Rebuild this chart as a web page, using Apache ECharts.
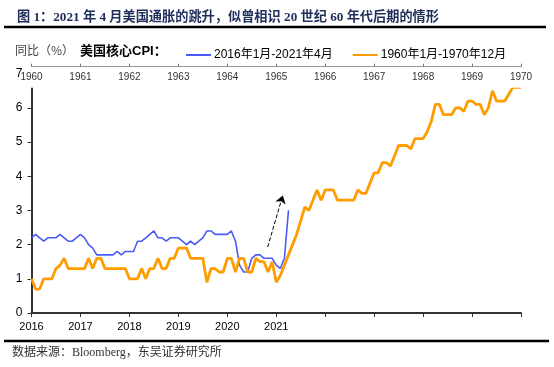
<!DOCTYPE html>
<html>
<head>
<meta charset="utf-8">
<script src="https://cdn.jsdelivr.net/npm/echarts@6/dist/echarts.min.js"></script>
<style>
html,body{margin:0;padding:0;background:#fff;}
#chart{width:554px;height:367px;}
</style>
</head>
<body>
<div id="chart"></div>
<script>
// ---- data ----
var bottomYears = ['2016','2017','2018','2019','2020','2021'];
var topYears = ['1960','1961','1962','1963','1964','1965','1966','1967','1968','1969','1970'];
var seriesNames = ['2016年1月-2021年4月', '1960年1月-1970年12月'];
// US core CPI YoY, 2016/01 - 2021/04 (monthly)
var cpi2016 = [
  2.2,2.3,2.2,2.1,2.2,2.2,2.2,2.3,2.2,2.1,2.1,2.2,
  2.3,2.2,2.0,1.9,1.7,1.7,1.7,1.7,1.7,1.8,1.7,1.8,
  1.8,1.8,2.1,2.1,2.2,2.3,2.4,2.2,2.2,2.1,2.2,2.2,
  2.2,2.1,2.0,2.1,2.0,2.1,2.2,2.4,2.4,2.3,2.3,2.3,
  2.3,2.4,2.1,1.4,1.2,1.2,1.6,1.7,1.7,1.6,1.6,1.6,
  1.4,1.3,1.6,3.0
];
// US core CPI YoY, 1960/01 onward (monthly, as drawn)
var cpi1960 = [
  1.0,0.7,0.7,1.0,1.0,1.0,1.3,1.4,1.6,1.3,1.3,1.3,
  1.3,1.3,1.6,1.3,1.6,1.6,1.3,1.3,1.3,1.3,1.3,1.3,
  1.0,1.0,1.0,1.3,1.0,1.3,1.3,1.6,1.3,1.3,1.6,1.6,
  1.9,1.9,1.9,1.6,1.6,1.6,1.6,0.9,1.3,1.3,1.2,1.2,
  1.6,1.6,1.2,1.6,1.6,1.2,1.2,1.6,1.5,1.5,1.2,1.5,
  0.9,1.1,1.4,1.7,2.0,2.3,2.7,3.1,3.0,3.3,3.6,3.3,
  3.6,3.6,3.6,3.3,3.3,3.3,3.3,3.3,3.6,3.5,3.5,3.8,
  4.1,4.1,4.4,4.4,4.3,4.6,4.9,4.9,4.9,4.8,5.1,5.1,
  5.1,5.3,5.6,6.1,6.1,5.8,5.8,5.8,6.0,6.0,5.9,6.2,
  6.2,6.1,6.1,5.8,6.0,6.5,6.2,6.2,6.2,6.4,6.6,6.6,
  6.6
];

function pairs(arr){ return arr.map(function(v,i){ return [i, v]; }); }

var chart = echarts.init(document.getElementById('chart'), null, {renderer:'canvas'});
var latin = 'Arial, "Liberation Sans", "Noto Sans CJK SC", sans-serif';
var serif = '"Liberation Serif", "Noto Sans CJK SC", serif';

chart.setOption({
  animation: false,
  backgroundColor: '#fff',
  title: {
    text: '图 1：2021 年 4 月美国通胀的跳升，似曾相识 20 世纪 60 年代后期的情形',
    left: 12, top: 6,
    textStyle: {fontFamily: serif, fontWeight: 'bold', fontSize: 13.2, color: '#1f2d5a'}
  },
  legend: {
    data: seriesNames,
    left: 181, top: 44,
    itemWidth: 25, itemHeight: 2, itemGap: 20,
    icon: 'rect',
    textStyle: {fontFamily: latin, fontSize: 12, color: '#000', padding: [0,0,0,-2]}
  },
  grid: {left: 31.5, right: 33, top: 73.7, bottom: 54},
  xAxis: [{
    type: 'value', position: 'bottom', min: 0, max: 120, interval: 12,
    axisLine: {show: true, lineStyle: {color: '#333', width: 2}},
    axisTick: {show: true, length: 4, lineStyle: {color: '#333', width: 1}},
    splitLine: {show: false},
    axisLabel: {
      margin: 8, fontFamily: latin, fontSize: 11, color: '#000',
      formatter: function(v){ var k = Math.round(v/12); return k < bottomYears.length ? bottomYears[k] : ''; }
    }
  },{
    type: 'value', position: 'top', offset: 7, min: 0, max: 120, interval: 12, z: 5,
    axisLine: {show: true, onZero: false, lineStyle: {color: '#999', width: 1}},
    axisTick: {show: true, length: 3, lineStyle: {color: '#777'}},
    splitLine: {show: false},
    axisLabel: {
      inside: true, margin: 5, fontFamily: latin, fontSize: 10, color: '#333',
      backgroundColor: '#fff', padding: [1,0,5,0],
      formatter: function(v){ var k = Math.round(v/12); return topYears[k] || ''; }
    }
  }],
  yAxis: {
    type: 'value', min: 0, max: 7, interval: 1,
    axisLine: {show: true, lineStyle: {color: '#333', width: 2}},
    axisTick: {show: true, length: 4, lineStyle: {color: '#333'}},
    splitLine: {show: false},
    axisLabel: {margin: 9, fontFamily: latin, fontSize: 12, color: '#000'}
  },
  graphic: [
    {type: 'line', shape: {x1: 4, y1: 27, x2: 546, y2: 27}, style: {stroke: '#000', lineWidth: 2.5}},
    {type: 'line', shape: {x1: 4, y1: 341, x2: 549, y2: 341}, style: {stroke: '#000', lineWidth: 2.5}},
    {type: 'text', left: 15, top: 44, style: {text: '同比（%）', font: '12px "Noto Sans CJK SC", sans-serif', fill: '#444'}},
    {type: 'text', left: 80, top: 45, style: {text: '美国核心CPI：', font: 'bold 13px Arial, "Noto Sans CJK SC", sans-serif', fill: '#000'}},
    {type: 'text', left: 12, top: 347, style: {text: '数据来源：Bloomberg，东吴证券研究所', font: '12px "Liberation Serif", "Noto Sans CJK SC", serif', fill: '#333'}}
  ],
  series: [{
    name: seriesNames[0], type: 'line', xAxisIndex: 0,
    data: pairs(cpi2016), showSymbol: false, symbol: 'none',
    lineStyle: {color: '#4a5cf5', width: 1.6}, itemStyle: {color: '#4a5cf5'},
    markLine: {
      silent: true, symbol: ['none', 'arrow'], symbolSize: 8,
      label: {show: false},
      lineStyle: {type: 'dashed', color: '#000', width: 1},
      data: [[{coord: [57.9, 1.93]}, {coord: [61.6, 3.44]}]]
    }
  },{
    name: seriesNames[1], type: 'line', xAxisIndex: 0,
    data: pairs(cpi1960), showSymbol: false, symbol: 'none',
    lineStyle: {color: '#ff9c00', width: 2.8}, itemStyle: {color: '#ff9c00'}
  }]
});
</script>
</body>
</html>
